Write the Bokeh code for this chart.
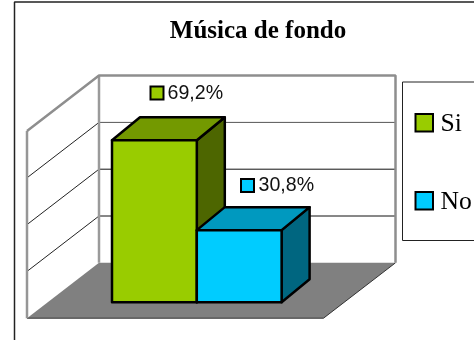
from bokeh.plotting import figure
from bokeh.models import Range1d
from bokeh.core.properties import value
from bokeh.embed import file_html
from bokeh.resources import INLINE

TITLE = "Música de fondo"
CATEGORIES = ["Si", "No"]
VALUES = [69.2, 30.8]
LABELS = ["69,2%", "30,8%"]
TICKS = [20, 40, 60, 80]
AXIS_MAX = 80
FRONT = ["#99CC00", "#00CCFF"]
TOPS = ["#739900", "#0099BF"]
SIDES = ["#4D6600", "#006680"]

W, H = 474, 340
BASE_PX, PX_PER_UNIT = 301.7, 2.34
p = figure(width=W, height=H, x_range=Range1d(0, W), y_range=Range1d(H, 0),
           output_backend="svg", toolbar_location=None, min_border=0,
           x_axis_location=None, y_axis_location=None)
p.styles = {"position": "fixed", "left": "0px", "top": "0px"}
p.grid.visible = False
p.outline_line_color = None
p.extra_y_ranges = {"value": Range1d((BASE_PX - H) / PX_PER_UNIT, BASE_PX / PX_PER_UNIT)}
V = dict(y_range_name="value")

# geometry of the 3D box (value units for y)
FL, FR, BL, BR = 26.5, 323, 98.5, 395
F0 = (BASE_PX - 317.7) / PX_PER_UNIT
B0 = (BASE_PX - 262.3) / PX_PER_UNIT
top_f, top_b = F0 + AXIS_MAX, B0 + AXIS_MAX

# outer frame
p.line([14, 14, 480], [345, 1.5, 1.5], line_color="#222222", line_width=1.5)

# gridlines
for i, t in enumerate(TICKS[:-1]):
    c = "#555555" if t == 60 else "#111111"
    p.line([BL, BR], [B0 + t, B0 + t], line_color=c, line_width=1, **V)
    p.line([FL, BL], [F0 + t, B0 + t], line_color="#222222", line_width=1, **V)

# floor
p.patch([FL, BL, BR, FR], [F0, B0, B0, F0], fill_color="#808080", line_color=None, **V)
p.line([FL, FR, BR], [F0, F0, B0], line_color="#333333", line_width=1, **V)

# walls
p.line([BL, BL], [B0, top_b], line_color="#9A9A9A", line_width=2.5, **V)
p.line([FL, FL], [F0, top_f], line_color="#969696", line_width=2.5, **V)
p.line([FL, BL, BR, BR], [top_f, top_b, top_b, B0], line_color="#8E8E8E", line_width=2.5, **V)

# bars
X0, BW, DX = 111.5, 84.8, 28
DY = 23 / PX_PER_UNIT
for i, v in enumerate(VALUES):
    l, r = X0 + i * BW, X0 + (i + 1) * BW
    kw = dict(line_color="black", line_width=2.5, line_join="round", **V)
    p.patch([r, r + DX, r + DX, r], [0, DY, v + DY, v], fill_color=SIDES[i], **kw)
    p.patch([l, r, r + DX, l + DX], [v, v, v + DY, v + DY], fill_color=TOPS[i], **kw)
    p.quad(left=l, right=r, bottom=0, top=v, fill_color=FRONT[i], **kw)

# data labels
for lab, c, sx, tx, by in zip(LABELS, FRONT, [150, 240.5], [167, 258], [99, 191.5]):
    p.quad(left=sx, right=sx + 13, top=by - 13, bottom=by, fill_color=c, line_color="black",
           line_width=2, line_join="miter")
    p.text([tx], [by - 8], [lab], text_font=value("Liberation Sans"), text_font_size="19.6px",
           text_color="#111111", text_baseline="middle", text_align="left")

# title
p.text([257.5], [29], [TITLE], text_font=value("Liberation Serif"), text_font_size="25px",
       text_font_style="bold", text_color="black", text_align="center", text_baseline="middle")

# legend
p.line([480, 402, 402, 480], [81.5, 81.5, 240, 240], line_color="#222222", line_width=1)
for cat, c, top in zip(CATEGORIES, FRONT, [113.5, 191.5]):
    p.quad(left=415, right=432.5, top=top, bottom=top + 17.5, fill_color=c, line_color="black",
           line_width=2, line_join="miter")
    p.text([440], [top + 8.5], [cat], text_font=value("Liberation Serif"), text_font_size="25.6px",
           text_color="black", text_baseline="middle", text_align="left")

open("out.html", "w").write(file_html(p, INLINE))
